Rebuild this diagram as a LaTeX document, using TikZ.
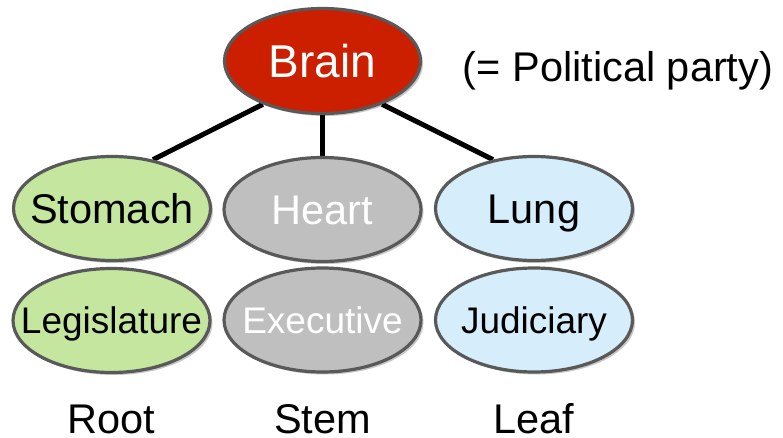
\documentclass[tikz,border=0pt]{standalone}
\usepackage{fontspec}
\setmainfont{Liberation Sans}
\usetikzlibrary{shapes.geometric,shadows,backgrounds}
\definecolor{brainred}{HTML}{CC1F00}
\definecolor{outl}{HTML}{595959}
\definecolor{rootgreen}{HTML}{C4E69F}
\definecolor{stemgray}{HTML}{BFBFBF}
\definecolor{leafblue}{HTML}{D6EEFC}
\newcommand\zbox[1]{\makebox[0pt]{#1}}
\tikzset{
  organ/.style={ellipse, draw=outl, line width=3.2pt, inner sep=0pt,
    minimum width=197pt, minimum height=104pt,
    drop shadow={shadow xshift=2.5pt, shadow yshift=-2.5pt, opacity=0.22, fill=black}},
  bigfont/.style={font=\fontsize{41.5}{44}\selectfont, text height=29.7pt, text depth=0pt},
  smallfont/.style={font=\fontsize{37}{40}\selectfont, text height=26.5pt, text depth=0pt},
  brainfont/.style={font=\fontsize{46}{50}\selectfont, text height=32.9pt, text depth=0pt},
  plain/.style={inner sep=0pt},
  link/.style={line width=5pt, black}
}
\begin{document}
\begin{tikzpicture}[x=1pt,y=-1pt]
\useasboundingbox (0,0) rectangle (783,438);
\node[organ, fill=brainred, text=white, brainfont, minimum width=196pt, minimum height=105pt] (brain) at (322.5,61) {\zbox{Brain}};
\node[plain, bigfont] (party) at (618,66.5) {(= Political party)};
\node[organ, fill=rootgreen, bigfont] (stomach) at (112,208.5) {\zbox{Stomach}};
\node[organ, fill=stemgray, text=white, bigfont] (heart) at (322.5,209.5) {\zbox{Heart}};
\node[organ, fill=leafblue, bigfont] (lung) at (534,208.5) {\zbox{Lung}};
\node[organ, fill=rootgreen, smallfont] (legis) at (111.5,320.5) {\zbox{Legislature}};
\node[organ, fill=stemgray, text=white, smallfont] (exec) at (322.5,320) {\zbox{Executive}};
\node[organ, fill=leafblue, smallfont] (jud) at (534,320) {\zbox{Judiciary}};
\node[plain, bigfont] (root) at (111.5,418.5) {Root};
\node[plain, bigfont] (stem) at (322.5,418.5) {Stem};
\node[plain, bigfont] (leaf) at (534,418.5) {Leaf};
\begin{scope}[on background layer]
\draw[link] (brain.216) -- (stomach.50);
\draw[link] (brain.south) -- (heart.north);
\draw[link] (brain.324) -- (lung.130);
\end{scope}
\end{tikzpicture}
\end{document}
